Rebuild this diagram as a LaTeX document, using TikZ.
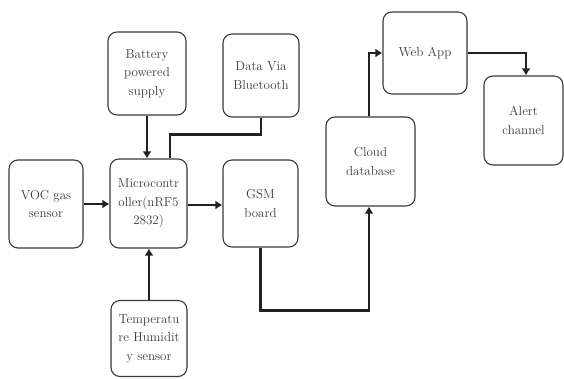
\documentclass[tikz,border=0pt]{standalone}
\usetikzlibrary{arrows.meta}
\definecolor{boxline}{HTML}{3A3A3A}
\definecolor{wire}{HTML}{222222}
\definecolor{txt}{HTML}{3C3C3C}
\tikzset{
  blk/.style={draw=boxline, line width=1.1pt, rounded corners=9pt, fill=white,
    align=center, text=txt, inner sep=0pt,
    font=\rmfamily\fontsize{13}{18.5}\selectfont},
  wireline/.style={draw=wire, line width=2.4pt},
  flow/.style={wireline, -{Latex[length=7pt,width=9pt]}}
}
\begin{document}
\begin{tikzpicture}[x=1pt,y=-1pt]
\useasboundingbox (0,0) rectangle (564,378);
\node[blk, minimum width=78pt, minimum height=83pt] (bat) at (147,73.5) {Battery\\powered\\supply};
\node[blk, minimum width=76pt, minimum height=83pt] (bt) at (261,75.5) {Data Via\\Bluetooth};
\node[blk, minimum width=74pt, minimum height=88pt] (voc) at (46,204) {VOC gas\\sensor};
\node[blk, minimum width=77pt, minimum height=89pt] (mcu) at (148.5,203.5) {Microcontr\\oller(nRF5\\2832)};
\node[blk, minimum width=75pt, minimum height=87pt] (gsm) at (260.5,203.5) {GSM\\board};
\node[blk, minimum width=76pt, minimum height=76pt] (tmp) at (149,338.5) {Temperatu\\re Humidit\\y sensor};
\node[blk, minimum width=89pt, minimum height=89pt] (cloud) at (370.5,161.5) {Cloud\\database};
\node[blk, minimum width=84pt, minimum height=82pt] (web) at (425,53) {Web App};
\node[blk, minimum width=79pt, minimum height=89pt] (alert) at (523.5,120.5) {Alert\\channel};

\draw[flow] (bat.south) -- (bat.south |- mcu.north);
\draw[wireline] (bt.south) -- ++(0,17) -| ([xshift=21.5pt]mcu.north);
\draw[flow] (voc.east) -- (voc.east -| mcu.west);
\draw[flow] ([yshift=-1.5pt]mcu.east) -- ([yshift=-1.5pt]mcu.east -| gsm.west);
\draw[flow] (tmp.north) -- (tmp.north |- mcu.south);
\draw[flow] (gsm.south) -- ++(0,63) -| ([xshift=-1.5pt]cloud.south);
\draw[flow] ([xshift=-1.5pt]cloud.north) |- (web.west);
\draw[flow] (web.east) -| ([xshift=2.5pt]alert.north);
\end{tikzpicture}
\end{document}
